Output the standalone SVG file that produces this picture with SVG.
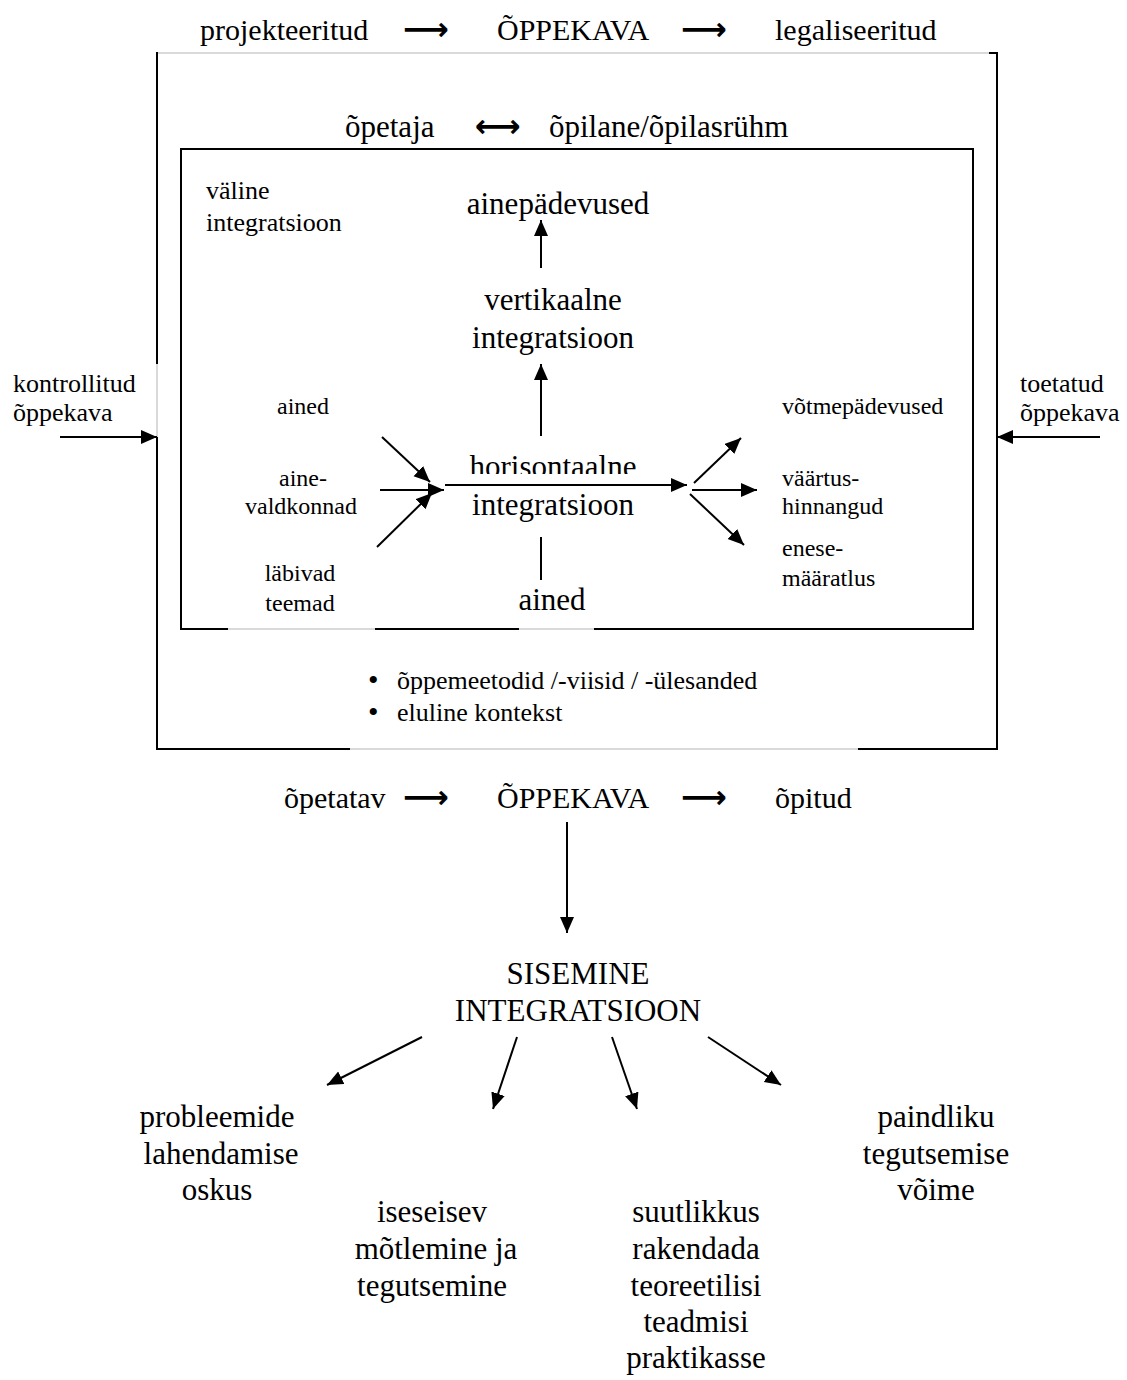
<svg xmlns="http://www.w3.org/2000/svg" width="1127" height="1380" viewBox="0 0 1127 1380">
<style>
text{font-family:"Liberation Serif","DejaVu Serif",serif;fill:#000}
.xl{font-size:31px}
.lg{font-size:30px}
.md{font-size:26px}
.sm{font-size:24px}
.bu{font-size:30px}
.c{text-anchor:middle}
.ar{font-family:"DejaVu Sans",sans-serif;font-weight:bold;font-size:32px}
.b{stroke:#000;stroke-width:2;fill:none}
.g{stroke:#b4b4b4;stroke-width:1;fill:none}
.a{stroke:#000;stroke-width:2;fill:none;marker-end:url(#ah)}
</style>
<defs>
<marker id="ah" markerUnits="userSpaceOnUse" markerWidth="18" markerHeight="16" refX="16" refY="7" orient="auto">
<path d="M0,0 L16,7 L0,14 Z" fill="#000"/>
</marker>
<clipPath id="hclip"><rect x="400" y="440" width="320" height="34"/></clipPath>
</defs>

<g id="top-row">
<text class="lg" x="200" y="40">projekteeritud</text>
<text class="ar" x="403" y="40">⟶</text>
<text class="lg" x="497" y="40">ÕPPEKAVA</text>
<text class="ar" x="681" y="40">⟶</text>
<text class="lg" x="775" y="40">legaliseeritud</text>
</g>

<g id="outer-box">
<line class="g" x1="157" y1="53" x2="990" y2="53"/>
<polyline class="b" points="989,53 997,53 997,749 858,749"/>
<line class="g" x1="350" y1="749" x2="858" y2="749"/>
<polyline class="b" points="350,749 157,749 157,437"/>
<line class="g" x1="157" y1="364" x2="157" y2="437"/>
<line class="b" x1="157" y1="52" x2="157" y2="364"/>
</g>

<g id="relation">
<text class="xl" x="345" y="137">õpetaja</text>
<text class="ar" x="475" y="137">⟷</text>
<text class="xl" x="549" y="137">õpilane/õpilasrühm</text>
</g>

<g id="inner-box">
<polyline class="b" points="228,629 181,629 181,149 973,149 973,629 594,629"/>
<line class="b" x1="375" y1="629" x2="519" y2="629"/>
<line class="g" x1="228" y1="629" x2="375" y2="629"/>
<line class="g" x1="519" y1="629" x2="594" y2="629"/>
</g>

<g id="kontrollitud">
<text class="md" x="13" y="392">kontrollitud</text>
<text class="md" x="13" y="421">õppekava</text>
</g>
<g id="toetatud">
<text class="md" x="1020" y="392">toetatud</text>
<text class="md" x="1020" y="421">õppekava</text>
</g>

<g id="valine">
<text class="md" x="206" y="199">väline</text>
<text class="md" x="206" y="231">integratsioon</text>
</g>

<g id="ainepadevused"><text class="xl c" x="558" y="214">ainepädevused</text></g>
<g id="vertikaalne">
<text class="xl c" x="553" y="310">vertikaalne</text>
<text class="xl c" x="553" y="348">integratsioon</text>
</g>
<g id="horisontaalne">
<text class="xl c" x="553" y="477" clip-path="url(#hclip)">horisontaalne</text>
<text class="xl c" x="553" y="515">integratsioon</text>
</g>
<g id="ained-bottom"><text class="xl c" x="552" y="610">ained</text></g>

<g id="ained-left"><text class="sm c" x="303" y="414">ained</text></g>
<g id="ainevaldkonnad">
<text class="sm c" x="303" y="486">aine-</text>
<text class="sm c" x="301" y="514">valdkonnad</text>
</g>
<g id="labivad">
<text class="sm c" x="300" y="581">läbivad</text>
<text class="sm c" x="300" y="611">teemad</text>
</g>

<g id="votmepadevused"><text class="sm" x="782" y="414">võtmepädevused</text></g>
<g id="vaartushinnangud">
<text class="sm" x="782" y="486">väärtus-</text>
<text class="sm" x="782" y="514">hinnangud</text>
</g>
<g id="enesemaaratlus">
<text class="sm" x="782" y="556">enese-</text>
<text class="sm" x="782" y="586">määratlus</text>
</g>

<g id="methods">
<text class="bu" x="368" y="690">•</text>
<text class="md" x="397" y="689">õppemeetodid /-viisid / -ülesanded</text>
<text class="bu" x="368" y="722">•</text>
<text class="md" x="397" y="721">eluline kontekst</text>
</g>

<g id="bottom-row">
<text class="lg" x="284" y="808">õpetatav</text>
<text class="ar" x="403" y="808">⟶</text>
<text class="lg" x="497" y="808">ÕPPEKAVA</text>
<text class="ar" x="681" y="808">⟶</text>
<text class="lg" x="775" y="808">õpitud</text>
</g>

<g id="sisemine">
<text class="xl c" x="578" y="984">SISEMINE</text>
<text class="xl c" x="578" y="1021">INTEGRATSIOON</text>
</g>

<g id="probleemide">
<text class="xl c" x="217" y="1127">probleemide</text>
<text class="xl c" x="221" y="1164">lahendamise</text>
<text class="xl c" x="217" y="1200">oskus</text>
</g>
<g id="iseseisev">
<text class="xl c" x="432" y="1222">iseseisev</text>
<text class="xl c" x="436" y="1259">mõtlemine ja</text>
<text class="xl c" x="432" y="1296">tegutsemine</text>
</g>
<g id="suutlikkus">
<text class="xl c" x="696" y="1222">suutlikkus</text>
<text class="xl c" x="696" y="1259">rakendada</text>
<text class="xl c" x="696" y="1296">teoreetilisi</text>
<text class="xl c" x="696" y="1332">teadmisi</text>
<text class="xl c" x="696" y="1368">praktikasse</text>
</g>
<g id="paindliku">
<text class="xl c" x="936" y="1127">paindliku</text>
<text class="xl c" x="936" y="1164">tegutsemise</text>
<text class="xl c" x="936" y="1200">võime</text>
</g>

<g id="connectors">
<line class="a" x1="60" y1="437" x2="157" y2="437"/>
<line class="a" x1="1100" y1="437" x2="997" y2="437"/>
<line class="a" x1="541" y1="268" x2="541" y2="220"/>
<line class="a" x1="541" y1="436" x2="541" y2="364"/>
<line class="b" x1="541" y1="537" x2="541" y2="580"/>
<line class="a" x1="382" y1="437" x2="430" y2="482"/>
<line class="a" x1="380" y1="490" x2="444" y2="490"/>
<line class="a" x1="377" y1="547" x2="432" y2="493"/>
<line class="a" x1="445" y1="485" x2="687" y2="485"/>
<line class="a" x1="694" y1="483" x2="741" y2="438"/>
<line class="a" x1="692" y1="490" x2="757" y2="490"/>
<line class="a" x1="690" y1="494" x2="744" y2="545"/>
<line class="a" x1="567" y1="822" x2="567" y2="933"/>
<line class="a" x1="422" y1="1037" x2="327" y2="1085"/>
<line class="a" x1="517" y1="1037" x2="493" y2="1109"/>
<line class="a" x1="612" y1="1037" x2="637" y2="1109"/>
<line class="a" x1="708" y1="1037" x2="781" y2="1085"/>
</g>
</svg>
